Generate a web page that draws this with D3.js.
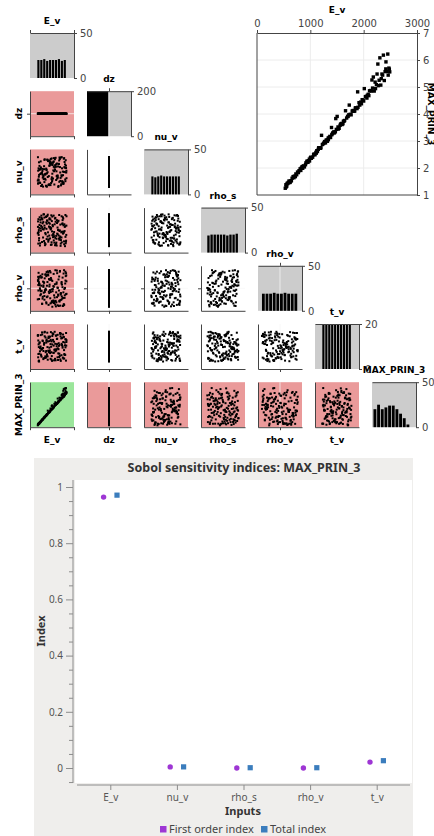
<!DOCTYPE html>
<html>
<head>
<meta charset="utf-8">
<script src="https://cdn.jsdelivr.net/npm/d3@7"></script>
<style>
  body { margin: 0; background: #fff; }
  svg { display: block; }
</style>
</head>
<body>
<div id="chart"></div>
<script>

// ---- data -------------------------------------------------------------
const vars = ["E_v", "dz", "nu_v", "rho_s", "rho_v", "t_v", "MAX_PRIN_3"];

// dz is held constant in this sample
const dzValue = 0.1;

const E_v = [
  1843, 612, 2290, 1105, 1477, 760, 2061, 1320, 935, 2435,
  1588, 548, 1972, 1210, 2370, 821, 1699, 1043, 2198, 677,
  1402, 2489, 889, 1765, 1156, 2012, 590, 1540, 2321, 982,
  1267, 1876, 719, 2133, 1451, 1009, 2402, 1634, 845, 1913,
  565, 1352, 2251, 1088, 1721, 634, 2085, 1189, 1503, 2460,
  788, 1958, 1296, 2167, 909, 1612, 530, 1805, 2343, 1121,
  1424, 701, 2033, 1568, 956, 2276, 1246, 1887, 658, 1379,
  2418, 1061, 1747, 585, 2110, 1335, 870, 1990, 1522, 2215,
  744, 1178, 1660, 2481, 1019, 1832, 620, 1441, 2304, 1284,
  960, 2068, 1596, 809, 1927, 1133, 2387, 1487, 542, 1785,
  2239, 1226, 693, 1681, 2146, 1397, 1002, 2452, 1853, 776,
  1558, 2000, 1112, 601, 2330, 1313, 1730, 857, 2181, 1469,
  1944, 729, 1199, 2415, 1620, 985, 1818, 558, 2266, 1366,
  1070, 2097, 1519, 832, 1894, 2356, 1256, 645, 1707, 2222,
  1415, 917, 2045, 1149, 2473, 1797, 573, 1338, 1643, 2155
];

const MAX_PRIN_3 = [
  4.22, 1.46, 5.25, 2.58, 3.83, 1.85, 4.59, 2.99, 2.25, 5.58,
  3.65, 1.30, 4.53, 3.21, 6.18, 1.91, 3.91, 2.40, 4.85, 1.68,
  3.23, 5.56, 2.04, 3.97, 2.75, 4.94, 1.47, 3.47, 5.07, 2.33,
  2.98, 4.20, 1.68, 4.87, 3.30, 2.40, 5.57, 3.74, 2.05, 4.42,
  1.43, 3.13, 5.48, 2.49, 3.97, 1.52, 4.73, 2.73, 3.91, 5.44,
  1.90, 4.38, 3.03, 4.96, 2.12, 3.64, 1.25, 4.13, 5.48, 2.64,
  3.31, 1.70, 4.64, 3.63, 2.21, 5.05, 2.90, 4.82, 1.62, 3.13,
  5.93, 2.49, 3.99, 1.45, 4.86, 3.11, 2.08, 4.51, 3.44, 5.18,
  1.75, 2.75, 4.12, 5.66, 2.36, 4.11, 1.47, 3.34, 6.08, 2.93,
  2.27, 4.69, 3.61, 1.97, 4.33, 2.61, 5.24, 3.43, 1.38, 4.11,
  5.09, 2.87, 1.64, 3.85, 4.85, 3.50, 2.38, 6.22, 4.23, 1.83,
  3.58, 4.48, 2.55, 1.52, 5.31, 3.04, 4.33, 1.99, 5.37, 3.34,
  4.44, 1.78, 2.75, 5.67, 3.73, 2.26, 4.10, 1.33, 5.85, 3.17,
  2.52, 4.68, 3.52, 2.00, 4.25, 5.44, 2.93, 1.53, 3.91, 4.94,
  3.27, 2.19, 4.65, 2.69, 5.70, 4.11, 1.42, 3.05, 3.76, 5.26
];

// the other inputs, as % of their sampled range
const nu_v = [
  37, 82, 14, 61, 95, 3, 48, 70, 26, 89,
  55, 11, 76, 33, 64, 7, 92, 41, 19, 58,
  84, 29, 1, 67, 45, 98, 22, 73, 50, 16,
  87, 35, 60, 9, 79, 42, 25, 96, 53, 68,
  12, 81, 39, 4, 71, 57, 30, 90, 18, 63,
  46, 77, 6, 99, 34, 85, 21, 52, 66, 2,
  74, 43, 93, 28, 59, 10, 86, 38, 15, 80,
  49, 24, 97, 62, 5, 72, 31, 88, 44, 17,
  65, 91, 8, 54, 27, 78, 40, 13, 94, 36,
  69, 20, 83, 47, 0, 56, 75, 32, 99, 23,
  51, 87, 13, 64, 39, 6, 92, 71, 28, 45,
  80, 17, 58, 34, 96, 9, 73, 41, 62, 26,
  3, 85, 49, 19, 67, 90, 36, 54, 11, 78,
  44, 98, 22, 60, 31, 83, 7, 70, 57, 15,
  93, 38, 66, 1, 48, 76, 25, 88, 52, 35
];

const rho_s = [
  72, 18, 45, 91, 5, 63, 30, 84, 52, 9,
  38, 77, 24, 98, 60, 13, 86, 41, 69, 2,
  55, 93, 27, 7, 80, 47, 35, 66, 15, 89,
  21, 58, 74, 43, 96, 10, 62, 31, 83, 50,
  8, 70, 39, 92, 26, 57, 1, 79, 46, 17,
  88, 33, 61, 12, 75, 95, 40, 23, 68, 54,
  4, 82, 49, 28, 99, 65, 14, 37, 90, 59,
  29, 6, 76, 44, 19, 87, 53, 97, 34, 71,
  48, 94, 11, 64, 3, 81, 25, 56, 42, 73,
  16, 67, 36, 85, 51, 22, 0, 78, 60, 32,
  90, 43, 9, 68, 27, 83, 57, 14, 39, 95,
  62, 20, 74, 50, 6, 33, 88, 71, 45, 12,
  79, 55, 30, 97, 18, 64, 2, 41, 86, 24,
  37, 8, 92, 59, 76, 47, 19, 66, 3, 81,
  52, 99, 26, 70, 35, 11, 84, 58, 44, 93
];

const rho_v = [
  26, 64, 90, 12, 47, 79, 3, 55, 38, 83,
  17, 70, 44, 96, 31, 8, 61, 87, 22, 50,
  93, 35, 68, 1, 57, 14, 76, 42, 99, 29,
  5, 52, 84, 19, 73, 40, 63, 10, 88, 33,
  59, 97, 24, 46, 6, 81, 36, 67, 15, 91,
  43, 2, 75, 28, 54, 89, 20, 62, 48, 9,
  78, 31, 95, 13, 66, 39, 85, 4, 58, 23,
  71, 49, 16, 92, 37, 60, 27, 82, 0, 53,
  34, 86, 11, 69, 45, 98, 21, 74, 7, 41,
  65, 18, 56, 80, 30, 94, 51, 14, 72, 39,
  2, 87, 46, 25, 63, 9, 77, 34, 91, 57,
  48, 16, 83, 68, 5, 37, 99, 22, 60, 11,
  74, 42, 28, 95, 54, 19, 66, 81, 3, 45,
  88, 33, 70, 8, 51, 24, 93, 62, 15, 79,
  40, 58, 97, 26, 85, 12, 44, 73, 31, 67
];

const t_v = [
  58, 3, 81, 35, 67, 20, 92, 46, 11, 74,
  29, 88, 52, 6, 63, 97, 40, 17, 79, 34,
  9, 71, 45, 86, 24, 55, 1, 94, 38, 62,
  83, 14, 50, 77, 31, 99, 22, 66, 43, 5,
  70, 37, 90, 13, 59, 26, 84, 48, 2, 95,
  16, 61, 33, 78, 8, 53, 87, 41, 25, 69,
  98, 44, 19, 72, 56, 10, 36, 89, 64, 28,
  47, 80, 4, 57, 93, 30, 68, 15, 85, 51,
  23, 96, 39, 65, 12, 75, 0, 49, 82, 32,
  60, 7, 91, 42, 27, 73, 54, 18, 86, 37,
  13, 67, 45, 99, 21, 58, 84, 3, 76, 39,
  92, 26, 63, 48, 10, 80, 34, 70, 55, 6,
  41, 88, 17, 74, 29, 97, 51, 14, 65, 83,
  31, 2, 57, 90, 44, 22, 78, 61, 9, 46,
  72, 35, 95, 18, 53, 87, 25, 68, 4, 59
];

// histogram bin counts
const histCounts = {
  E_v:        [20, 20, 21, 19, 20, 20, 20, 21, 19, 20],
  dz:         [200],
  nu_v:       [20, 19, 20, 21, 20, 20, 20, 20, 20, 20],
  rho_s:      [19, 20, 20, 20, 20, 20, 19, 20, 20, 21],
  rho_v:      [19, 19, 19, 20, 19, 19, 20, 19, 19, 19],
  t_v:        [20, 20, 20, 20, 20, 20, 20, 20, 20, 20],
  MAX_PRIN_3: [20, 25, 20, 22, 24, 24, 20, 15, 10, 3]
};
const histEdges = {
  E_v: [500, 2500], dz: [0, 0.1], nu_v: [0, 100], rho_s: [0, 100],
  rho_v: [0, 100], t_v: [0, 100], MAX_PRIN_3: [1.2, 6.2]
};
const histMax = { E_v: 50, dz: 200, nu_v: 50, rho_s: 50, rho_v: 50, t_v: 20, MAX_PRIN_3: 50 };

// Sobol indices
const inputs = ["E_v", "nu_v", "rho_s", "rho_v", "t_v"];
const firstOrder = [0.964, 0.004, 0.0, 0.0, 0.021];
const totalIndex = [0.971, 0.004, 0.001, 0.001, 0.026];

// axis domains for each variable
const domains = {
  E_v: [0, 3000], dz: [0, 0.2], nu_v: [-25, 125], rho_s: [-20, 120],
  rho_v: [-11, 111], t_v: [-25, 125], MAX_PRIN_3: [1, 7]
};
const cellTicks = { E_v: [0, 3000], dz: [0.1], rho_v: [50] };
const gridTicks = { dz: [0.1], rho_v: [50] };

// ---- drawing ----------------------------------------------------------
const samples = {
  E_v, dz: E_v.map(() => dzValue), nu_v, rho_s, rho_v, t_v, MAX_PRIN_3
};
const N = E_v.length;

const svg = d3.select("#chart").append("svg")
  .attr("width", 434)
  .attr("height", 836);

const axisCol = "#444";
const redCell = "#ea9a9a", greenCell = "#9be69b", histBg = "#cccccc";
const gridCol = "rgba(245,245,245,0.75)";

const cellX = j => 30 + j * 57;
const cellY = i => 33 + i * 58.2;
const CW = 44, CH = 45;

let colX = vars.map((v, j) => d3.scaleLinear().domain(domains[v]).range([cellX(j), cellX(j) + CW]));
let rowY = vars.map((v, i) => d3.scaleLinear().domain(domains[v]).range([cellY(i) + CH, cellY(i)]));

function styleAxis(g) {
  g.select(".domain").attr("stroke", axisCol);
  g.selectAll(".tick line").attr("stroke", axisCol);
  g.selectAll(".tick text").attr("fill", "#444")
    .style("font-family", "'DejaVu Sans', sans-serif").style("font-size", "10px");
}

function cellFill(i, j) {
  if (i === 6 && j === 0) return greenCell;
  if (i === 6 || j === 0) return redCell;
  return null;
}

let matrix = svg.append("g");

function drawScatter(i, j) {
  const xv = vars[j], yv = vars[i];
  const x = colX[j], y = rowY[i];
  const [x0, x1] = x.range(), [y1, y0] = y.range();
  const g = matrix.append("g");
  const fill = cellFill(i, j);
  if (fill) g.append("rect").attr("x", x0).attr("y", y0)
    .attr("width", x1 - x0).attr("height", y1 - y0).attr("fill", fill);

  (gridTicks[xv] || []).forEach(t => g.append("line")
    .attr("x1", x(t)).attr("x2", x(t)).attr("y1", y0).attr("y2", y1)
    .attr("stroke", gridCol));
  (gridTicks[yv] || []).forEach(t => g.append("line")
    .attr("x1", x0).attr("x2", x1).attr("y1", y(t)).attr("y2", y(t))
    .attr("stroke", gridCol));

  g.selectAll("rect.pt").data(d3.range(N)).join("rect")
    .attr("class", "pt")
    .attr("x", k => x(samples[xv][k]) - 1)
    .attr("y", k => y(samples[yv][k]) - 1)
    .attr("width", 2).attr("height", 2)
    .attr("fill", "#000");

  g.append("g").attr("transform", `translate(0,${y1})`)
    .call(d3.axisBottom(x).tickValues(cellTicks[xv] || []).tickSize(3).tickSizeOuter(0).tickFormat(""))
    .call(styleAxis);
  g.append("g").attr("transform", `translate(${x0},0)`)
    .call(d3.axisLeft(y).tickValues(cellTicks[yv] || []).tickSize(3).tickSizeOuter(0).tickFormat(""))
    .call(styleAxis);
}

function drawHist(i) {
  const v = vars[i];
  const x = colX[i];
  const [x0, x1] = x.range();
  const top = cellY(i), bottom = cellY(i) + CH;
  const hy = d3.scaleLinear().domain([0, histMax[v]]).range([bottom, top]);
  const g = matrix.append("g");
  g.append("rect").attr("x", x0).attr("y", top).attr("width", x1 - x0).attr("height", CH)
    .attr("fill", histBg);
  (gridTicks[v] || []).forEach(t => g.append("line")
    .attr("x1", x(t)).attr("x2", x(t)).attr("y1", top).attr("y2", bottom)
    .attr("stroke", gridCol));

  const counts = histCounts[v];
  const [e0, e1] = histEdges[v];
  const bw = (e1 - e0) / counts.length;
  g.selectAll("rect.bar").data(counts).join("rect")
    .attr("class", "bar")
    .attr("x", (d, k) => x(e0 + k * bw))
    .attr("width", (d, k) => Math.max(0.6, x(e0 + (k + 1) * bw) - x(e0 + k * bw) - 0.8))
    .attr("y", d => hy(Math.min(d, histMax[v])))
    .attr("height", d => hy(0) - hy(Math.min(d, histMax[v])))
    .attr("fill", "#000");

  g.append("g").attr("transform", `translate(0,${top})`)
    .call(d3.axisTop(x).tickValues(cellTicks[v] || []).tickSize(3).tickSizeOuter(0).tickFormat(""))
    .call(styleAxis);
  g.append("g").attr("transform", `translate(${x1},0)`)
    .call(d3.axisRight(hy).tickValues([0, histMax[v]]).tickSize(3).tickSizeOuter(0))
    .call(styleAxis);

  // variable name above the histogram
  matrix.append("text")
    .attr("x", (x0 + x1) / 2).attr("y", top - 9)
    .attr("text-anchor", "middle")
    .style("font", "bold 9px 'DejaVu Sans', sans-serif")
    .text(v);
}

vars.forEach((rv, i) => {
  vars.forEach((cv, j) => {
    if (j > i) return;
    if (i === j) drawHist(i);
    else drawScatter(i, j);
  });
});

// row labels (left) and column labels (bottom)
vars.forEach((v, i) => {
  if (i === 0) return;
  const cy = cellY(i) + CH / 2;
  matrix.append("text")
    .attr("transform", `translate(22,${cy}) rotate(-90)`)
    .attr("text-anchor", "middle")
    .style("font", "bold 9px 'DejaVu Sans', sans-serif")
    .text(v);
});
vars.forEach((v, j) => {
  if (j === vars.length - 1) return;
  matrix.append("text")
    .attr("x", cellX(j) + CW / 2).attr("y", 443)
    .attr("text-anchor", "middle")
    .style("font", "bold 9px 'DejaVu Sans', sans-serif")
    .text(v);
});

// ---- large E_v vs MAX_PRIN_3 scatter ------------------------------------
const big = svg.append("g");
const bx = d3.scaleLinear().domain([0, 3000]).range([257, 417]);
const by = d3.scaleLinear().domain([1, 7]).range([195, 33]);

big.append("g").selectAll("line.gx").data([1000, 2000]).join("line")
  .attr("x1", d => bx(d)).attr("x2", d => bx(d)).attr("y1", 33).attr("y2", 195)
  .attr("stroke", "#ececec");
big.append("g").selectAll("line.gy").data([2, 3, 4, 5, 6]).join("line")
  .attr("x1", 257).attr("x2", 417).attr("y1", d => by(d)).attr("y2", d => by(d))
  .attr("stroke", "#ececec");

big.append("g").selectAll("rect").data(d3.range(N)).join("rect")
  .attr("x", k => bx(E_v[k]) - 1.7)
  .attr("y", k => by(MAX_PRIN_3[k]) - 1.7)
  .attr("width", 3.4).attr("height", 3.4)
  .attr("fill", "#000");

big.append("line").attr("x1", 257).attr("x2", 257).attr("y1", 33).attr("y2", 195).attr("stroke", axisCol);
big.append("line").attr("x1", 257).attr("x2", 417).attr("y1", 195).attr("y2", 195).attr("stroke", axisCol);

big.append("g").attr("transform", "translate(0,33)")
  .call(d3.axisTop(bx).tickValues([0, 1000, 2000, 3000]).tickSize(3).tickSizeOuter(0).tickFormat(d3.format("d")))
  .call(styleAxis);
big.append("g").attr("transform", "translate(417,0)")
  .call(d3.axisRight(by).tickValues([1, 2, 3, 4, 5, 6, 7]).tickSize(3).tickSizeOuter(0).tickFormat(d3.format("d")))
  .call(styleAxis);

big.append("text")
  .attr("x", 337).attr("y", 13)
  .attr("text-anchor", "middle")
  .style("font", "bold 9px 'DejaVu Sans', sans-serif")
  .text("E_v");
big.append("text")
  .attr("transform", "translate(428,114) rotate(90)")
  .attr("text-anchor", "middle")
  .style("font", "bold 9px 'DejaVu Sans', sans-serif")
  .text("MAX_PRIN_3");

// ---- Sobol indices chart ------------------------------------------------
const sob = svg.append("g").style("font-family", "'Noto Sans', 'Open Sans', sans-serif");
sob.append("rect").attr("x", 34).attr("y", 458).attr("width", 379).attr("height", 378)
  .attr("fill", "#efeeec");
sob.append("rect").attr("x", 75).attr("y", 480).attr("width", 337).attr("height", 303)
  .attr("fill", "#fff");

sob.append("text")
  .attr("x", 244).attr("y", 472)
  .attr("text-anchor", "middle")
  .attr("fill", "#333")
  .style("font-size", "12.5px").style("font-weight", "bold")
  .text("Sobol sensitivity indices: MAX_PRIN_3");

const sx = d3.scalePoint().domain(inputs).range([77, 410]).padding(0.5);
const sy = d3.scaleLinear().domain([0, 1]).range([768, 487]);
const sAxisCol = "#8c8c8c";

// y axis
sob.append("line").attr("x1", 73).attr("x2", 73).attr("y1", 480).attr("y2", 783).attr("stroke", sAxisCol);
const minorTicks = d3.range(-1, 20).map(k => k * 0.05).filter(v => Math.round(v * 100) % 20 !== 0);
sob.append("g").attr("transform", "translate(73,0)")
  .call(d3.axisLeft(sy).tickValues(minorTicks).tickSize(4).tickFormat(""))
  .call(g => g.select(".domain").remove())
  .call(g => g.selectAll(".tick line").attr("stroke", sAxisCol));
sob.append("g").attr("transform", "translate(73,0)")
  .call(d3.axisLeft(sy).tickValues([0, 0.2, 0.4, 0.6, 0.8, 1]).tickSize(7).tickPadding(3)
    .tickFormat(d => d === 0 ? "0" : d === 1 ? "1" : d3.format(".1f")(d)))
  .call(g => g.select(".domain").remove())
  .call(g => g.selectAll(".tick line").attr("stroke", sAxisCol))
  .call(g => g.selectAll(".tick text").attr("fill", "#555")
    .style("font-family", "'Noto Sans', sans-serif").style("font-size", "10px"));

// x axis
sob.append("line").attr("x1", 77).attr("x2", 410).attr("y1", 785).attr("y2", 785).attr("stroke", sAxisCol);
sob.append("g").attr("transform", "translate(0,785)")
  .call(d3.axisBottom(sx).tickSize(5).tickPadding(4))
  .call(g => g.select(".domain").remove())
  .call(g => g.selectAll(".tick line").attr("stroke", sAxisCol))
  .call(g => g.selectAll(".tick text").attr("fill", "#555")
    .style("font-family", "'Noto Sans', sans-serif").style("font-size", "10px"));

sob.append("text")
  .attr("x", 243).attr("y", 815)
  .attr("text-anchor", "middle").attr("fill", "#333")
  .style("font-size", "11px").style("font-weight", "bold")
  .text("Inputs");
sob.append("text")
  .attr("transform", "translate(45,631) rotate(-90)")
  .attr("text-anchor", "middle").attr("fill", "#333")
  .style("font-size", "11px").style("font-weight", "bold")
  .text("Index");

const purple = "#9e36d4", blue = "#3b7dbd";
sob.append("g").selectAll("circle").data(firstOrder).join("circle")
  .attr("cx", (d, k) => sx(inputs[k]) - 6.7)
  .attr("cy", d => sy(d))
  .attr("r", 2.7)
  .attr("fill", purple);
sob.append("g").selectAll("rect").data(totalIndex).join("rect")
  .attr("x", (d, k) => sx(inputs[k]) + 6.7 - 2.6)
  .attr("y", d => sy(d) - 2.6)
  .attr("width", 5.2).attr("height", 5.2)
  .attr("fill", blue);

// legend
const legend = [
  { label: "First order index", colour: purple, x: 160 },
  { label: "Total index", colour: blue, x: 261 }
];
legend.forEach(l => {
  sob.append("rect").attr("x", l.x).attr("y", 826).attr("width", 6.5).attr("height", 6.5).attr("fill", l.colour);
  sob.append("text").attr("x", l.x + 9).attr("y", 833)
    .attr("fill", "#444").style("font-size", "11px")
    .text(l.label);
});

</script>
</body>
</html>
